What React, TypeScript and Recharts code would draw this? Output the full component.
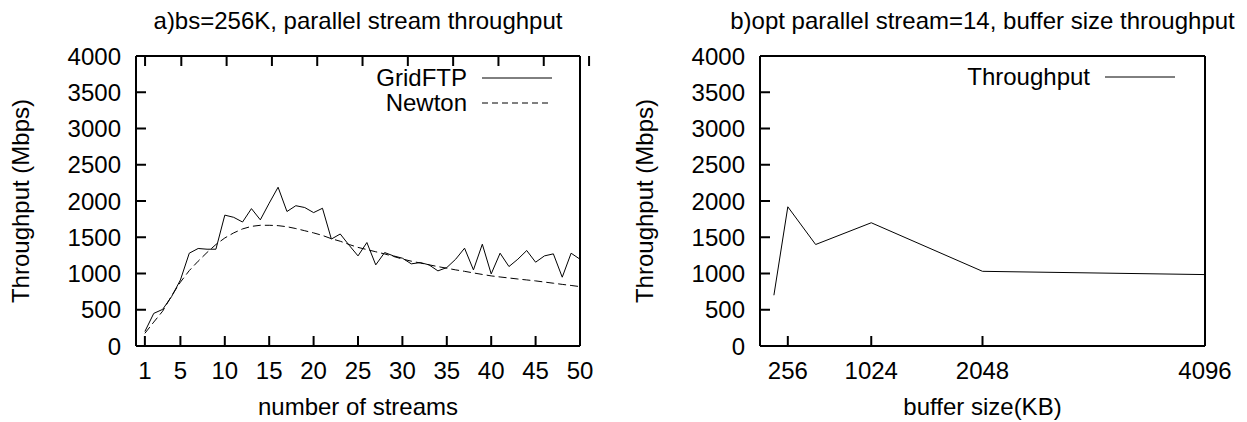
import { LineChart, Line, XAxis, YAxis, Legend, Label } from "recharts";

// a) parallel streams, bs=256K
const streams = [
  1, 2, 3, 4, 5, 6, 7, 8, 9, 10, 11, 12, 13, 14, 15, 16, 17, 18, 19, 20, 21, 22, 23, 24, 25,
  26, 27, 28, 29, 30, 31, 32, 33, 34, 35, 36, 37, 38, 39, 40, 41, 42, 43, 44, 45, 46, 47, 48, 49, 50,
];
const gridftp = [
  200, 450, 505, 680, 910, 1280, 1345, 1335, 1335, 1805,
  1775, 1710, 1895, 1740, 1970, 2190, 1855, 1935, 1910, 1840,
  1900, 1475, 1545, 1390, 1243, 1427, 1119, 1289, 1243, 1211,
  1133, 1151, 1119, 1036, 1082, 1197, 1349, 1050, 1404, 994,
  1280, 1096, 1197, 1317, 1156, 1243, 1271, 949, 1280, 1197,
];
const newton = [
  175, 330, 480, 690, 880, 1040, 1170, 1290, 1400, 1490,
  1560, 1615, 1650, 1665, 1665, 1660, 1645, 1620, 1590, 1560,
  1525, 1480, 1445, 1400, 1360, 1330, 1300, 1270, 1235, 1200,
  1170, 1145, 1120, 1095, 1073, 1050, 1030, 1008, 987, 967,
  952, 938, 924, 911, 898, 882, 866, 850, 835, 819,
];
const streamTicks = [1, 5, 10, 15, 20, 25, 30, 35, 40, 45, 50];

// b) buffer sizes at 14 streams
const bufferSizes = [128, 256, 512, 1024, 2048, 4096];
const bufferThroughput = [700, 1920, 1400, 1700, 1030, 985];
const bufferTicks = [256, 1024, 2048, 4096];

const throughputTicks = [0, 500, 1000, 1500, 2000, 2500, 3000, 3500, 4000];

const FONT = '"Liberation Sans", Arial, Helvetica, sans-serif';
const FS = 24;

const streamData = streams.map((s, i) => ({ streams: s, GridFTP: gridftp[i], Newton: newton[i] }));
const bufferData = bufferSizes.map((b, i) => ({ size: b, Throughput: bufferThroughput[i] }));

const axisLine = { stroke: "#000", strokeWidth: 2 };
const tickLine = { stroke: "#000", strokeWidth: 2 };
const tickStyle = { fill: "#000", fontSize: FS };
const noLabel = () => <g />;

function LegendBox(props: any) {
  const payload = props.payload || [];
  return (
    <div style={{ fontSize: FS, color: "#000" }}>
      {payload.map((entry: any) => (
        <div
          key={entry.value}
          style={{ display: "flex", alignItems: "center", justifyContent: "flex-end", height: 25 }}
        >
          <span>{entry.value}</span>
          <svg width={70} height={4} style={{ marginLeft: 15 }}>
            <line
              x1={0}
              y1={2}
              x2={70}
              y2={2}
              stroke="#000"
              strokeWidth={1}
              strokeDasharray={entry.payload?.strokeDasharray ? "6 4" : undefined}
            />
          </svg>
        </div>
      ))}
    </div>
  );
}

function StreamChart() {
  return (
    <LineChart width={620} height={422} data={streamData} margin={{ top: 55, right: 39, bottom: 0, left: 0 }}>
      <XAxis
        dataKey="streams"
        type="number"
        domain={[0, 50]}
        ticks={streamTicks}
        interval={0}
        height={76}
        axisLine={axisLine}
        tickLine={tickLine}
        tickSize={-10}
        tickMargin={26}
        tick={tickStyle}
      >
        <Label value="number of streams" position="insideBottom" offset={7} fontSize={FS} fill="#000" />
      </XAxis>
      <XAxis
        xAxisId="top"
        orientation="top"
        type="number"
        domain={[0, 50]}
        ticks={streamTicks}
        interval={0}
        height={1}
        axisLine={axisLine}
        tickLine={tickLine}
        tickSize={-10}
        tick={noLabel}
      >
        <Label value="a)bs=256K, parallel stream throughput" position="top" offset={26} fontSize={FS} fill="#000" />
      </XAxis>
      <YAxis
        type="number"
        domain={[0, 4000]}
        ticks={throughputTicks}
        interval={0}
        width={136}
        axisLine={axisLine}
        tickLine={tickLine}
        tickSize={-10}
        tickMargin={25}
        tick={tickStyle}
      >
        <Label
          value="Throughput (Mbps)"
          angle={-90}
          position="insideLeft"
          offset={20}
          fontSize={FS}
          fill="#000"
          style={{ textAnchor: "middle" }}
        />
      </YAxis>
      <YAxis
        yAxisId="right"
        orientation="right"
        type="number"
        domain={[0, 4000]}
        ticks={throughputTicks}
        interval={0}
        width={1}
        axisLine={axisLine}
        tickLine={tickLine}
        tickSize={-10}
        tick={noLabel}
      />
      <Legend
        layout="vertical"
        align="center"
        verticalAlign="middle"
        content={<LegendBox />}
        wrapperStyle={{ top: 65, right: 68, left: "auto", bottom: "auto", width: "auto" }}
      />
      <Line dataKey="GridFTP" stroke="#000" strokeWidth={1} dot={false} isAnimationActive={false} />
      <Line
        dataKey="Newton"
        stroke="#000"
        strokeWidth={1}
        strokeDasharray="8 4"
        dot={false}
        isAnimationActive={false}
      />
    </LineChart>
  );
}

function BufferChart() {
  return (
    <LineChart width={627} height={422} data={bufferData} margin={{ top: 55, right: 41, bottom: 0, left: 0 }}>
      <XAxis
        dataKey="size"
        type="number"
        domain={[0, 4096]}
        ticks={bufferTicks}
        interval={0}
        height={76}
        axisLine={axisLine}
        tickLine={tickLine}
        tickSize={-10}
        tickMargin={26}
        tick={tickStyle}
      >
        <Label value="buffer size(KB)" position="insideBottom" offset={7} fontSize={FS} fill="#000" />
      </XAxis>
      <XAxis
        xAxisId="top"
        orientation="top"
        type="number"
        domain={[0, 4096]}
        ticks={bufferTicks}
        interval={0}
        height={1}
        axisLine={axisLine}
        tickLine={tickLine}
        tickSize={-10}
        tick={noLabel}
      >
        <Label
          value="b)opt parallel stream=14, buffer size throughput"
          position="top"
          offset={26}
          fontSize={FS}
          fill="#000"
        />
      </XAxis>
      <YAxis
        type="number"
        domain={[0, 4000]}
        ticks={throughputTicks}
        interval={0}
        width={140}
        axisLine={axisLine}
        tickLine={tickLine}
        tickSize={-10}
        tickMargin={25}
        tick={tickStyle}
      >
        <Label
          value="Throughput (Mbps)"
          angle={-90}
          position="insideLeft"
          offset={24}
          fontSize={FS}
          fill="#000"
          style={{ textAnchor: "middle" }}
        />
      </YAxis>
      <YAxis
        yAxisId="right"
        orientation="right"
        type="number"
        domain={[0, 4000]}
        ticks={throughputTicks}
        interval={0}
        width={1}
        axisLine={axisLine}
        tickLine={tickLine}
        tickSize={-10}
        tick={noLabel}
      />
      <Legend
        layout="vertical"
        align="center"
        verticalAlign="middle"
        content={<LegendBox />}
        wrapperStyle={{ top: 64, right: 72, left: "auto", bottom: "auto", width: "auto" }}
      />
      <Line dataKey="Throughput" stroke="#000" strokeWidth={1} dot={false} isAnimationActive={false} />
    </LineChart>
  );
}

export default function App() {
  return (
    <div
      style={{
        position: "absolute",
        left: 0,
        top: 0,
        width: 1247,
        height: 422,
        background: "#fff",
        fontFamily: FONT,
      }}
    >
      <div style={{ position: "absolute", left: 0, top: 0 }}>
        <StreamChart />
      </div>
      <div style={{ position: "absolute", left: 620, top: 0 }}>
        <BufferChart />
      </div>
    </div>
  );
}
